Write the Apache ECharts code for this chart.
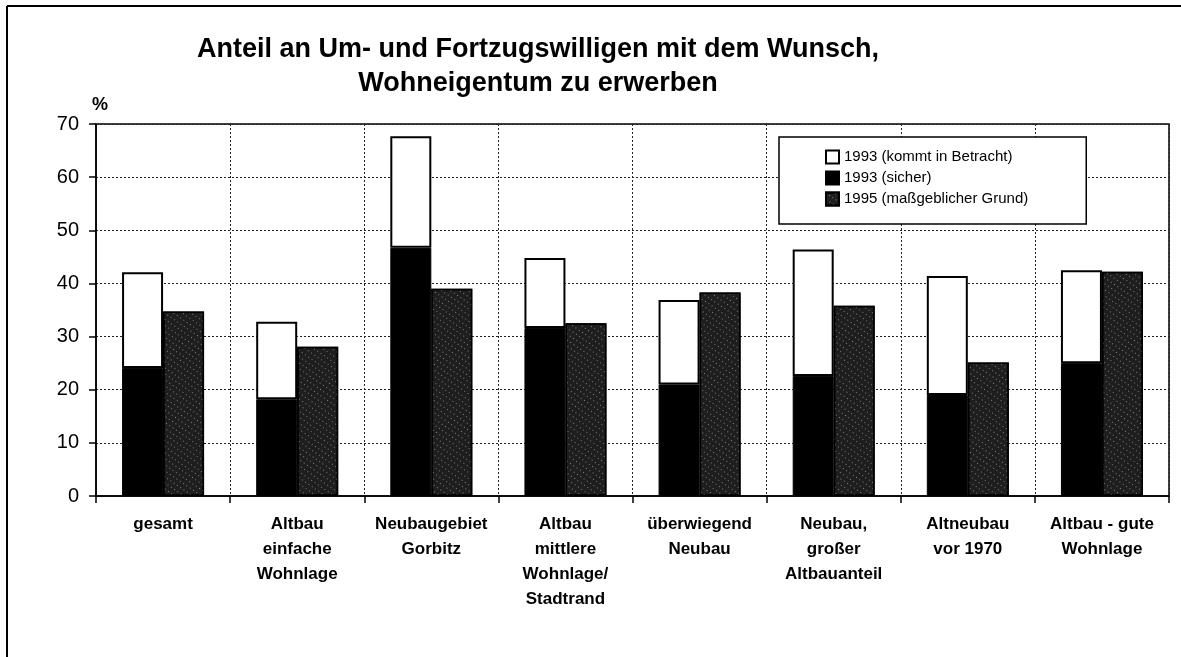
<!DOCTYPE html>
<html>
<head>
<meta charset="utf-8">
<script src="https://cdn.jsdelivr.net/npm/echarts@6/dist/echarts.min.js"></script>
<style>
html,body{margin:0;padding:0;background:#fff;}
#chart{width:1181px;height:657px;}
</style>
</head>
<body>
<div id="chart"></div>
<script>
var categories = ['gesamt', 'Altbau\neinfache\nWohnlage', 'Neubaugebiet\nGorbitz', 'Altbau\nmittlere\nWohnlage/\nStadtrand', 'überwiegend\nNeubau', 'Neubau,\ngroßer\nAltbauanteil', 'Altneubau\nvor 1970', 'Altbau - gute\nWohnlage'];
var kommt1993 = [42.1, 32.8, 67.7, 44.8, 36.9, 46.4, 41.4, 42.5];
var sicher1993 = [24.1, 18.2, 46.7, 31.6, 21.0, 22.6, 19.0, 25.0];
var grund1995 = [34.7, 28.1, 39.0, 32.5, 38.3, 35.8, 25.1, 42.2];
var seriesNames = ['1993 (kommt in Betracht)', '1993 (sicher)', '1995 (maßgeblicher Grund)'];
var titleText = 'Anteil an Um- und Fortzugswilligen mit dem Wunsch,\nWohneigentum zu erwerben';
var yMin = 0, yMax = 70, yStep = 10;

// white part drawn on top of the black "sicher" part (overlay of totals)
var kommtRest = kommt1993.map(function (v, i) { return +(v - sicher1993[i]).toFixed(1); });

var FONT = '"Liberation Sans", Arial, sans-serif';
var chart = echarts.init(document.getElementById('chart'), null, {renderer: 'canvas'});

var option = {
  backgroundColor: '#fff',
  animation: false,
  textStyle: {fontFamily: FONT, color: '#000'},
  title: [
    {
      text: titleText, left: 538, top: 33, textAlign: 'center', padding: 0,
      textStyle: {fontFamily: FONT, fontSize: 27, fontWeight: 'bold', color: '#000', lineHeight: 34}
    },
    {
      text: '%', left: 92, top: 96, padding: 0,
      textStyle: {fontFamily: FONT, fontSize: 18, fontWeight: 'bold', color: '#000'}
    }
  ],
  graphic: [
    {type: 'line', shape: {x1: 7, y1: 6, x2: 1181, y2: 6}, style: {stroke: '#000', lineWidth: 2}},
    {type: 'line', shape: {x1: 7, y1: 6, x2: 7, y2: 657}, style: {stroke: '#000', lineWidth: 2}}
  ],
  legend: {
    orient: 'vertical',
    left: 779, top: 137,
    data: seriesNames.map(function (n) { return {name: n, icon: 'rect'}; }),
    itemWidth: 13, itemHeight: 13, itemGap: 5,
    padding: [12, 58, 17, 46],
    backgroundColor: '#fff',
    borderColor: '#000', borderWidth: 1.5, borderRadius: 0,
    textStyle: {fontFamily: FONT, fontSize: 15, color: '#000', lineHeight: 16},
    selectedMode: false
  },
  grid: {
    left: 96, right: 12, top: 124, bottom: 161,
    show: true, borderColor: '#000', borderWidth: 1.5, backgroundColor: 'transparent'
  },
  xAxis: {
    type: 'category',
    data: categories,
    boundaryGap: true,
    axisLine: {lineStyle: {color: '#000', width: 1.5}},
    axisTick: {show: true, interval: 0, length: 7, inside: false, lineStyle: {color: '#000', width: 1.5}},
    splitLine: {show: true, interval: 0, lineStyle: {color: '#222', width: 1, type: [2, 2]}},
    axisLabel: {interval: 0, margin: 16, fontFamily: FONT, fontSize: 17, fontWeight: 'bold', color: '#000', lineHeight: 25, align: 'center'}
  },
  yAxis: {
    type: 'value', min: yMin, max: yMax, interval: yStep,
    axisLine: {show: true, lineStyle: {color: '#000', width: 1.5}},
    axisTick: {show: true, length: 7, lineStyle: {color: '#000', width: 1.5}},
    splitLine: {show: true, lineStyle: {color: '#222', width: 1, type: [2, 2]}},
    axisLabel: {margin: 17, fontFamily: FONT, fontSize: 20, color: '#000'}
  },
  series: [
    {
      name: seriesNames[1], type: 'bar', stack: 'y1993', data: sicher1993,
      barWidth: 41, barGap: '0%',
      itemStyle: {color: '#000', borderColor: '#000', borderWidth: 1}
    },
    {
      name: seriesNames[0], type: 'bar', stack: 'y1993', data: kommtRest,
      barWidth: 41, barGap: '0%',
      itemStyle: {color: '#fff', borderColor: '#000', borderWidth: 2}
    },
    {
      name: seriesNames[2], type: 'bar', data: grund1995,
      barWidth: 41, barGap: '0%',
      itemStyle: {
        color: '#1e1e1e', borderColor: '#000', borderWidth: 1.5,
        decal: {
          symbol: 'rect', symbolSize: 1,
          color: 'rgba(210,210,210,0.55)',
          dashArrayX: [1, 3], dashArrayY: [1, 4], rotation: 0.6
        }
      }
    }
  ]
};
chart.setOption(option);
</script>
</body>
</html>
